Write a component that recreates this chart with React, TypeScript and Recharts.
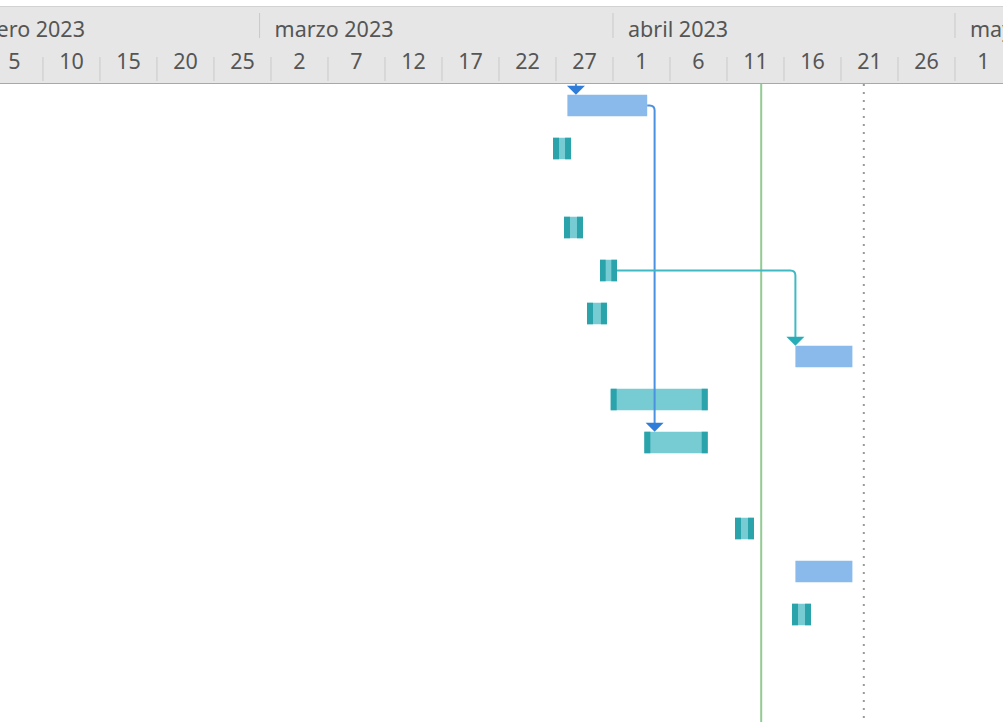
import React from 'react';
import { ComposedChart, XAxis, YAxis, ReferenceArea, ReferenceLine, ReferenceDot } from 'recharts';

// ---- header ticks ----
const MONTH_STARTS = ['2023-02-01', '2023-03-01', '2023-04-01', '2023-05-01'];
const MONTH_LABELS = ['febrero 2023', 'marzo 2023', 'abril 2023', 'mayo 2023'];
const DAY_TICKS = [
  '2023-02-05', '2023-02-10', '2023-02-15', '2023-02-20', '2023-02-25',
  '2023-03-02', '2023-03-07', '2023-03-12', '2023-03-17', '2023-03-22', '2023-03-27',
  '2023-04-01', '2023-04-06', '2023-04-11', '2023-04-16', '2023-04-21', '2023-04-26',
  '2023-05-01',
];

// ---- tasks ----
const TASK_ROWS = [-1, 0, 1, 3, 4, 5, 6, 7, 8, 10, 11, 12];
const TASK_KINDS = ['plan', 'plan', 'actual', 'actual', 'actual', 'actual', 'plan', 'actual', 'actual', 'actual', 'plan', 'actual'];
const TASK_STARTS = [
  '2023-03-20T00:00', '2023-03-28T00:00', '2023-03-26T17:45', '2023-03-27T16:50',
  '2023-03-30T20:40', '2023-03-29T17:15', '2023-04-17T00:00', '2023-03-31T19:10',
  '2023-04-03T18:00', '2023-04-11T16:50', '2023-04-17T00:00', '2023-04-16T16:50',
];
const TASK_ENDS = [
  '2023-03-28T02:25', '2023-04-04T00:00', '2023-03-28T07:40', '2023-03-29T08:50',
  '2023-04-01T08:25', '2023-03-31T11:15', '2023-04-22T00:00', '2023-04-09T07:25',
  '2023-04-09T07:25', '2023-04-13T08:50', '2023-04-22T00:00', '2023-04-18T08:50',
];

// ---- dependency links (task indices) ----
const LINK_FROM = [0, 1, 4];
const LINK_TO = [1, 8, 6];

// ---- markers ----
const STATUS_DATE = '2023-04-14T00:00';
const DEADLINE_DATE = '2023-04-23T00:00';

// ---- layout ----
const W = 1003;
const H = 722;
const HEADER_H = 84;
const PLOT_H = H - HEADER_H;
const X_DOMAIN: [number, number] = [36.23, 124.21];
const PX_PER_DAY = W / (X_DOMAIN[1] - X_DOMAIN[0]);
const ROW_H = 43;
const COMPACT_ROW_H: Record<number, number> = { 2: 36 };
const BAR_HALF = 10.75;
const FONT = '"Noto Sans", "DejaVu Sans", sans-serif';
const FONT_SIZE = 21.5;

const C_PLAN = '#8ab9eb';
const C_ACT = '#77ccd3';
const C_ACT_CAP = '#2aa3aa';
const C_LINK_PLAN = '#4a91e0';
const C_ARROW_PLAN = '#2f7dd8';
const C_LINK_ACT = '#3fbac5';
const C_ARROW_ACT = '#27adb8';
const C_TEXT = '#555555';

const dayNum = (s: string) =>
  (Date.parse(s.length === 10 ? s + 'T00:00Z' : s + 'Z') - Date.parse('2023-01-01T00:00Z')) / 86400000;

const rowHeight = (r: number) => (COMPACT_ROW_H[r] ?? ROW_H);
const rowCenter = (r: number) => {
  if (r < 0) return r * ROW_H + ROW_H / 2;
  let top = 0;
  for (let i = 0; i < r; i++) top += rowHeight(i);
  return top + rowHeight(r) / 2;
};

const MONTH_NUMS = MONTH_STARTS.map(dayNum);
const DAY_CENTERS = DAY_TICKS.map((d) => dayNum(d) + 2.5);
const ALL_TICKS = [...MONTH_NUMS, ...DAY_CENTERS];

const tasks = TASK_ROWS.map((row, i) => ({
  row,
  kind: TASK_KINDS[i],
  start: dayNum(TASK_STARTS[i]),
  end: dayNum(TASK_ENDS[i]),
  y: rowCenter(row),
}));

const links = LINK_FROM.map((f, i) => {
  const a = tasks[f];
  const b = tasks[LINK_TO[i]];
  const xv = Math.max(b.start, a.end + 0.65);
  const tipY = b.y - BAR_HALF;
  return {
    a,
    b,
    xv,
    tipY,
    line: a.kind === 'plan' ? C_LINK_PLAN : C_LINK_ACT,
    arrow: a.kind === 'plan' ? C_ARROW_PLAN : C_ARROW_ACT,
  };
});

const HeaderTick = (props: any) => {
  const { x, payload } = props;
  const v = payload.value;
  const mi = MONTH_NUMS.indexOf(v);
  if (mi >= 0) {
    return (
      <g>
        <line x1={x} x2={x} y1={13} y2={38} stroke="#c9c9c9" strokeWidth={1} />
        <text x={x + 15} y={37} fill={C_TEXT} fontSize={FONT_SIZE} fontFamily={FONT}>
          {MONTH_LABELS[mi]}
        </text>
      </g>
    );
  }
  const di = DAY_CENTERS.indexOf(v);
  const label = di >= 0 ? new Date(Date.parse(DAY_TICKS[di] + 'T00:00Z')).getUTCDate() : '';
  const sep = x - 2.5 * PX_PER_DAY;
  return (
    <g>
      <line x1={sep} x2={sep} y1={57} y2={81} stroke="#c9c9c9" strokeWidth={1} />
      <text x={x} y={69} fill={C_TEXT} fontSize={FONT_SIZE} fontFamily={FONT} textAnchor="middle">
        {label}
      </text>
    </g>
  );
};

const ActualShape = (props: any) => {
  const { x, y, width, height } = props;
  const cap = Math.min(6, width / 3);
  return (
    <g>
      <rect x={x} y={y} width={width} height={height} fill={C_ACT} />
      <rect x={x} y={y} width={cap} height={height} fill={C_ACT_CAP} />
      <rect x={x + width - cap} y={y} width={cap} height={height} fill={C_ACT_CAP} />
    </g>
  );
};

const PlanShape = (props: any) => {
  const { x, y, width, height } = props;
  return <rect x={x} y={y} width={width} height={height} fill={C_PLAN} />;
};

const arrowShape = (color: string) => (props: any) => {
  const { cx, cy } = props;
  return <path d={`M${cx - 9},${cy - 9} L${cx + 9},${cy - 9} L${cx},${cy} Z`} fill={color} />;
};

// elbow connector: horizontal from (x1,y1) to x2, then down to y2, with a rounded corner
const elbowShape = (color: string) => (props: any) => {
  const { x1, y1, x2, y2, clipPath } = props;
  const r = Math.min(5, Math.abs(x2 - x1), Math.abs(y2 - y1));
  const d = `M${x1},${y1} L${x2 - r},${y1} Q${x2},${y1} ${x2},${y1 + r} L${x2},${y2}`;
  return <path d={d} fill="none" stroke={color} strokeWidth={2} clipPath={clipPath} />;
};

export default function App() {
  return (
    <div style={{ position: 'absolute', left: 0, top: 0, width: W, height: H, background: '#fff', overflow: 'hidden' }}>
      <div
        style={{
          position: 'absolute',
          left: 0,
          top: 6,
          width: W,
          height: HEADER_H - 6,
          background: '#e6e6e6',
          borderTop: '1px solid #d2d2d2',
          borderBottom: '1px solid #a8a8a8',
          boxSizing: 'border-box',
        }}
      />
      <div style={{ position: 'absolute', left: 0, top: 0, width: W, height: H }}>
        <ComposedChart width={W} height={H} margin={{ top: 0, right: 0, bottom: 0, left: 0 }} data={tasks}>
          <XAxis
            xAxisId="t"
            dataKey="start"
            type="number"
            orientation="top"
            domain={X_DOMAIN}
            allowDataOverflow
            ticks={ALL_TICKS}
            interval={0}
            height={HEADER_H}
            tick={<HeaderTick />}
            axisLine={false}
            tickLine={false}
          />
          <YAxis
            yAxisId="r"
            dataKey="y"
            type="number"
            hide
            reversed
            domain={[0, PLOT_H]}
            allowDataOverflow
            width={0}
          />

          <ReferenceLine xAxisId="t" yAxisId="r" x={dayNum(STATUS_DATE)} stroke="#93cb93" strokeWidth={2} />
          <ReferenceLine
            xAxisId="t"
            yAxisId="r"
            x={dayNum(DEADLINE_DATE)}
            stroke="#9a9a9a"
            strokeWidth={2}
            strokeDasharray="2 6"
          />

          {tasks.map((t, i) => (
            <ReferenceArea
              key={'b' + i}
              xAxisId="t"
              yAxisId="r"
              x1={t.start}
              x2={t.end}
              y1={t.y - BAR_HALF}
              y2={t.y + BAR_HALF}
              ifOverflow="discard"
              fillOpacity={1}
              shape={t.kind === 'plan' ? PlanShape : ActualShape}
            />
          ))}

          {links.map((l, i) => (
            <ReferenceLine
              key={'l' + i}
              xAxisId="t"
              yAxisId="r"
              segment={[{ x: l.a.end, y: l.a.y }, { x: l.xv, y: l.tipY - 6 }]}
              stroke={l.line}
              strokeWidth={2}
              ifOverflow="hidden"
              shape={elbowShape(l.line)}
            />
          ))}
          {links.map((l, i) => (
            <ReferenceDot
              key={'la' + i}
              xAxisId="t"
              yAxisId="r"
              x={l.xv}
              y={l.tipY}
              ifOverflow="visible"
              shape={arrowShape(l.arrow)}
            />
          ))}
        </ComposedChart>
      </div>
    </div>
  );
}
